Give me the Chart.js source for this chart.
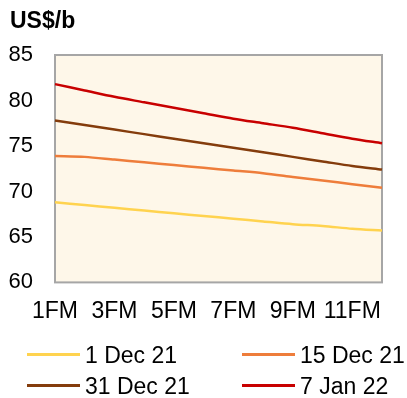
<!DOCTYPE html>
<html>
<head>
<meta charset="utf-8">
<script src="https://cdn.jsdelivr.net/npm/chart.js@4"></script>
<style>
  body { margin: 0; background: #fff; font-family: "Liberation Sans", Arial, sans-serif; }
  #wrap { position: relative; width: 407px; height: 398px; }
  #title { position: absolute; left: 10px; top: 7px; font-size: 23px; font-weight: bold; color: #000; }
  #legend { position: absolute; left: 0; top: 340px; width: 407px; }
  .item { position: absolute; font-size: 23px; color: #000; line-height: 30px; white-space: nowrap; }
  .item span.swatch { display: inline-block; width: 53px; height: 3px; vertical-align: middle; margin-right: 5px; position: relative; top: -2px; }
</style>
</head>
<body>
<div id="wrap">
  <canvas id="chart" width="407" height="398"></canvas>
  <div id="title">US$/b</div>
  <div id="legend"></div>
</div>
<script>
// categories (forward months)
const months = ['1FM', '2FM', '3FM', '4FM', '5FM', '6FM', '7FM', '8FM', '9FM', '10FM', '11FM', '12FM'];

// series values, US$/b
const dec1 = [68.8, 68.5, 68.2, 67.9, 67.6, 67.3, 67.0, 66.7, 66.4, 66.2, 65.9, 65.7];
const dec15 = [73.9, 73.8, 73.5, 73.2, 72.9, 72.6, 72.3, 72.0, 71.6, 71.2, 70.8, 70.4];
const dec31 = [77.8, 77.3, 76.8, 76.3, 75.8, 75.3, 74.8, 74.3, 73.8, 73.3, 72.8, 72.4];
const jan7 = [81.8, 81.1, 80.4, 79.8, 79.2, 78.6, 78.0, 77.5, 77.0, 76.4, 75.8, 75.3];

// y axis ticks
const yMin = 60;
const yMax = 85;
const yStep = 5;

// series names and colours
const seriesNames = ['1 Dec 21', '15 Dec 21', '31 Dec 21', '7 Jan 22'];
const seriesColors = ['#FFD34F', '#EE7D3B', '#843C0C', '#C80000'];

// plot area background + gray border
const plotBox = {
    id: 'plotBox',
    beforeDatasetsDraw(chart) {
        const a = chart.chartArea;
        const ctx = chart.ctx;
        ctx.save();
        ctx.fillStyle = '#FEF7E9';
        ctx.fillRect(a.left, a.top, a.right - a.left, a.bottom - a.top);
        ctx.strokeStyle = '#A6A6A6';
        ctx.lineWidth = 2;
        ctx.strokeRect(a.left, a.top, a.right - a.left, a.bottom - a.top);
        ctx.restore();
    }
};

const allSeries = [dec1, dec15, dec31, jan7];

const chart = new Chart(document.getElementById('chart'), {
    type: 'line',
    data: {
        labels: months,
        datasets: allSeries.map((s, i) => ({
            label: seriesNames[i],
            data: s,
            borderColor: seriesColors[i],
            borderWidth: 2.5,
            pointRadius: 0,
            tension: 0.3,
            fill: false
        }))
    },
    options: {
        responsive: false,
        animation: false,
        layout: { padding: { top: 55, right: 25, bottom: 58, left: 0 } },
        plugins: {
            legend: { display: false },
            tooltip: { enabled: false }
        },
        scales: {
            x: {
                offset: false,
                grid: { display: false, drawTicks: false },
                border: { display: false },
                ticks: {
                    autoSkip: false,
                    maxRotation: 0,
                    padding: 15,
                    color: '#000',
                    font: { family: 'Liberation Sans', size: 23 },
                    callback: function (val, idx) {
                        return idx % 2 === 0 ? this.getLabelForValue(val) : '';
                    }
                }
            },
            y: {
                min: yMin,
                max: yMax,
                grid: { display: false, drawTicks: false },
                border: { display: false },
                afterFit: function (axis) { axis.width = 55; },
                ticks: {
                    stepSize: yStep,
                    padding: 22,
                    color: '#000',
                    font: { family: 'Liberation Sans', size: 22 }
                }
            }
        }
    },
    plugins: [plotBox]
});

// legend in two columns, built from the chart's datasets
const legendPos = [[27, 0], [242, 0], [27, 31], [242, 31]];
const legendBox = document.getElementById('legend');
chart.data.datasets.forEach((ds, i) => {
    const item = document.createElement('div');
    item.className = 'item';
    item.style.left = legendPos[i][0] + 'px';
    item.style.top = legendPos[i][1] + 'px';
    item.innerHTML = '<span class="swatch" style="background:' + ds.borderColor + '"></span>' + ds.label;
    legendBox.appendChild(item);
});
</script>
</body>
</html>
